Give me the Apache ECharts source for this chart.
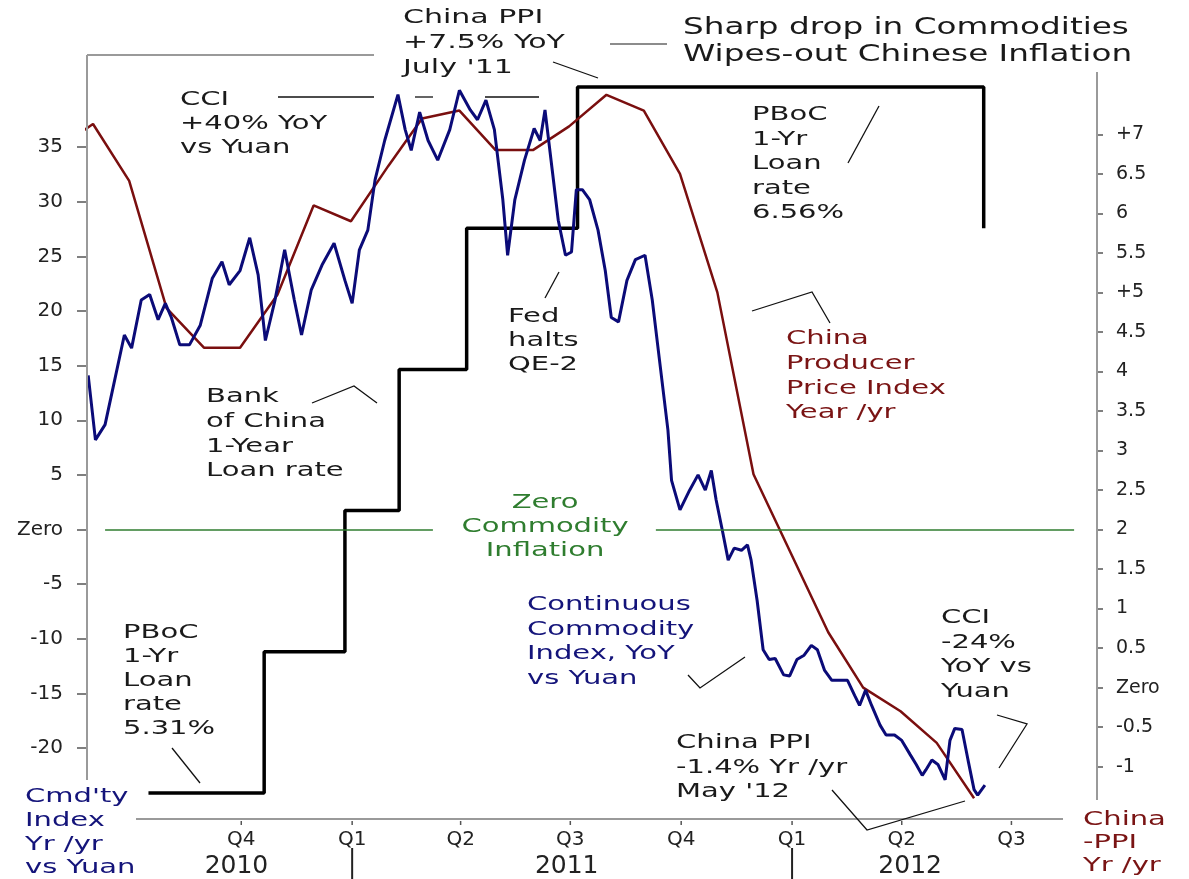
<!DOCTYPE html>
<html>
<head>
<meta charset="utf-8">
<title>Sharp drop in Commodities Wipes-out Chinese Inflation</title>
<script src="https://cdn.jsdelivr.net/npm/echarts@6/dist/echarts.min.js"></script>
<style>
  html, body { margin: 0; padding: 0; background: #fff; }
  #main { width: 1189px; height: 879px; }
</style>
</head>
<body>
<div id="main"></div>
<script>
// Continuous Commodity Index, YoY vs Yuan (left axis, %)
var cciDates = [
  '2010-05-27','2010-06-02','2010-06-10','2010-06-18','2010-06-26','2010-07-02','2010-07-10','2010-07-17','2010-07-24','2010-07-30',
  '2010-08-04','2010-08-11','2010-08-19','2010-08-28','2010-09-07','2010-09-15','2010-09-21','2010-09-30','2010-10-08','2010-10-15',
  '2010-10-21','2010-10-29','2010-11-06','2010-11-14','2010-11-20','2010-11-28','2010-12-07','2010-12-17','2010-12-26','2011-01-01',
  '2011-01-07','2011-01-14','2011-01-20','2011-01-28','2011-02-08','2011-02-14','2011-02-19','2011-02-26','2011-03-05','2011-03-13',
  '2011-03-23','2011-03-31','2011-04-09','2011-04-15','2011-04-22','2011-04-29','2011-05-06','2011-05-10','2011-05-16','2011-05-24',
  '2011-06-01','2011-06-06','2011-06-10','2011-06-16','2011-06-21','2011-06-27','2011-07-02','2011-07-06','2011-07-11','2011-07-17',
  '2011-07-24','2011-07-30','2011-08-04','2011-08-10','2011-08-17','2011-08-24','2011-09-01','2011-09-07','2011-09-13','2011-09-20',
  '2011-09-23','2011-09-30','2011-10-08','2011-10-15','2011-10-21','2011-10-26','2011-10-30','2011-11-04','2011-11-09','2011-11-14',
  '2011-11-20','2011-11-25','2011-11-28','2011-12-03','2011-12-08','2011-12-13','2011-12-18','2011-12-25','2011-12-30','2012-01-05',
  '2012-01-11','2012-01-17','2012-01-22','2012-01-28','2012-02-03','2012-02-10','2012-02-16','2012-02-22','2012-02-26','2012-03-02',
  '2012-03-07','2012-03-14','2012-03-19','2012-03-26','2012-04-01','2012-04-08','2012-04-13','2012-04-18','2012-04-21','2012-04-26',
  '2012-05-01','2012-05-07','2012-05-11','2012-05-15','2012-05-21','2012-05-26','2012-05-31','2012-06-03','2012-06-09'
];
var cciValues = [
  14.1, 8.2, 9.6, 13.7, 17.8, 16.6, 21.0, 21.5, 19.2, 20.7,
  19.4, 16.9, 16.9, 18.7, 23.0, 24.5, 22.4, 23.7, 26.7, 23.3,
  17.3, 21.0, 25.6, 21.0, 17.8, 21.9, 24.2, 26.2, 22.8, 20.7,
  25.6, 27.4, 32.0, 35.6, 39.8, 36.6, 34.7, 38.2, 35.6, 33.8,
  36.6, 40.2, 38.4, 37.5, 39.3, 36.6, 30.2, 25.1, 30.2, 33.8,
  36.7, 35.6, 38.4, 32.9, 28.3, 25.1, 25.4, 31.1, 31.1, 30.2,
  27.4, 23.7, 19.4, 19.0, 22.8, 24.7, 25.1, 21.0, 15.5, 9.1,
  4.5, 1.8, 3.6, 5.0, 3.6, 5.4, 2.7, 0.0, -2.8, -1.7,
  -1.9, -1.4, -2.8, -6.5, -11.0, -11.9, -11.8, -13.3, -13.4, -11.9,
  -11.5, -10.6, -11.0, -12.9, -13.8, -13.8, -13.8, -15.2, -16.1, -14.7,
  -16.1, -17.9, -18.8, -18.8, -19.3, -20.6, -21.5, -22.5, -22.0, -21.1,
  -21.5, -22.9, -19.3, -18.2, -18.3, -21.1, -23.8, -24.3, -23.4
];

// China producer price index, year/yr (right axis, %), month end
var ppiDates = [
  '2010-04-30','2010-05-31','2010-06-30','2010-07-31','2010-08-31','2010-09-30','2010-10-31','2010-11-30','2010-12-31',
  '2011-01-31','2011-02-28','2011-03-31','2011-04-30','2011-05-31','2011-06-30','2011-07-31','2011-08-31','2011-09-30',
  '2011-10-31','2011-11-30','2011-12-31','2012-01-31','2012-02-29','2012-03-31','2012-04-30','2012-05-31'
];
var ppiValues = [
  6.81, 7.13, 6.41, 4.80, 4.30, 4.30, 4.97, 6.10, 5.90,
  6.60, 7.20, 7.30, 6.80, 6.80, 7.10, 7.50, 7.30, 6.50,
  5.00, 2.70, 1.70, 0.70, 0.00, -0.30, -0.70, -1.40
];

// PBoC 1-year loan rate (%), value from that date on
var rateDates = ['2010-07-16','2010-10-20','2010-12-26','2011-02-09','2011-04-06','2011-07-07','2012-06-08'];
var rateValues = [5.31, 5.56, 5.81, 6.06, 6.31, 6.56, 6.31];

// axis ticks and labels
var leftTicks = [-20, -15, -10, -5, 0, 5, 10, 15, 20, 25, 30, 35];
var rightTicks = [-1, -0.5, 0, 0.5, 1, 1.5, 2, 2.5, 3, 3.5, 4, 4.5, 5, 5.5, 6, 6.5, 7];
var quarterTicks = ['2010-10-01','2011-01-01','2011-04-01','2011-07-01','2011-10-01','2012-01-01','2012-04-01','2012-07-01'];
var quarterLabels = ['Q4','Q1','Q2','Q3','Q4','Q1','Q2','Q3'];
var yearTicks = ['2011-01-01','2012-01-01'];
var yearLabelDates = ['2010-09-27','2011-06-28','2012-04-08'];
var yearLabels = ['2010','2011','2012'];
var zeroLineSpans = [['2010-06-10','2011-03-09'], ['2011-09-10','2012-08-22']];

// dates -> ms, the x axes are linear in time
function ts(s) { return +new Date(s + 'T00:00:00'); }

var FONT = '"DejaVu Sans", Verdana, sans-serif';
var INK = '#1a1a1a';
var NAVY = '#14147a';
var BROWN = '#7a1414';
var GREEN = '#2f7d2f';
var AXIS = '#9a9a9a';

var xMin = ts('2010-05-26');
var xMax = ts('2012-09-10');
var qTs = quarterTicks.map(ts);
var yTs = yearTicks.map(ts);
var ylTs = yearLabelDates.map(ts);

var myChart = echarts.init(document.getElementById('main'));

// annotation text block: left x, centre of first line, lines
function note(x, yc, lines, color, opts) {
  opts = opts || {};
  var size = opts.size || 20;
  var lh = opts.lh || 24.5;
  return {
    type: 'text',
    x: x,
    y: yc - lh / 2,
    scaleX: opts.sx || 1.45,
    z: 10,
    silent: true,
    style: {
      text: lines.join('\n'),
      x: 0, y: 0,
      font: size + 'px ' + FONT,
      fill: color || INK,
      lineHeight: lh,
      align: opts.align || 'left',
      verticalAlign: 'top'
    }
  };
}
function leader(points, color, width) {
  return {
    type: 'polyline',
    z: 9,
    silent: true,
    shape: { points: points },
    style: { stroke: color || '#111', lineWidth: width || 1.3, fill: null }
  };
}

var graphics = [
  // partial frame
  leader([[87, 55], [374, 55]], AXIS, 2),
  leader([[87, 55], [87, 780]], AXIS, 2),
  leader([[1097, 72], [1097, 800]], AXIS, 2),
  leader([[136, 819], [1063, 819]], AXIS, 2),

  note(403, 18, ['China PPI', '+7.5% YoY', "July '11"], INK, { sx: 1.5, lh: 25 }),
  leader([[553, 62], [598, 78]]),
  note(683, 28, ['Sharp drop in Commodities', 'Wipes-out Chinese Inflation'], INK, { size: 23, sx: 1.42, lh: 27 }),
  leader([[610, 44], [667, 44]], '#666', 1.3),
  note(180, 100, ['CCI', '+40% YoY', 'vs Yuan'], INK, { lh: 24 }),
  leader([[278, 97], [374, 97]]),
  leader([[415, 97], [433, 97]]),
  leader([[485, 97], [539, 97]]),
  note(752, 115, ['PBoC', '1-Yr', 'Loan', 'rate', '6.56%'], INK),
  leader([[879, 106], [848, 163]]),
  note(508, 317, ['Fed', 'halts', 'QE-2'], INK, { lh: 24 }),
  leader([[559, 272], [545, 298]]),
  note(206, 397, ['Bank', 'of China', '1-Year', 'Loan rate'], INK, { lh: 24.7 }),
  leader([[312, 403], [354, 386], [377, 403]]),
  note(545, 503, ['Zero', 'Commodity', 'Inflation'], GREEN, { align: 'center', lh: 24 }),
  note(786, 339, ['China', 'Producer', 'Price Index', 'Year /yr'], BROWN, { lh: 24.7 }),
  leader([[752, 311], [812, 292], [830, 323]]),
  note(527, 605, ['Continuous', 'Commodity', 'Index, YoY', 'vs Yuan'], NAVY),
  leader([[688, 675], [700, 688], [745, 657]]),
  note(941, 618, ['CCI', '-24%', 'YoY vs', 'Yuan'], INK),
  leader([[997, 715], [1027, 724], [999, 768]]),
  note(676, 743, ['China PPI', '-1.4% Yr /yr', "May '12"], INK),
  leader([[832, 790], [867, 830], [965, 801]]),
  note(123, 633, ['PBoC', '1-Yr', 'Loan', 'rate', '5.31%'], INK, { lh: 24 }),
  leader([[172, 748], [200, 783]]),
  note(25, 797, ["Cmd'ty", 'Index', 'Yr /yr', 'vs Yuan'], NAVY, { lh: 23.7 }),
  note(1083, 820, ['China', '-PPI', 'Yr /yr'], BROWN, { lh: 23 })
];

var option = {
  backgroundColor: '#fff',
  animation: false,
  textStyle: { fontFamily: FONT },
  grid: { left: 87, right: 92, top: 37.8, bottom: 76.3 },
  xAxis: [
    {
      type: 'value',
      min: xMin,
      max: xMax,
      offset: 16.3,
      axisLine: { show: false },
      splitLine: { show: false },
      axisTick: { show: false },
      axisLabel: {
        customValues: qTs,
        margin: 11,
        fontSize: 20,
        color: '#222',
        formatter: function (v) {
          var i = qTs.indexOf(v);
          return i >= 0 ? quarterLabels[i] : '';
        }
      }
    },
    {
      type: 'value',
      min: xMin,
      max: xMax,
      position: 'bottom',
      offset: 45.3,
      axisLine: { show: false },
      splitLine: { show: false },
      axisTick: { show: false },
      axisLabel: {
        customValues: ylTs,
        margin: 6,
        fontSize: 25,
        color: '#222',
        formatter: function (v) {
          var i = ylTs.indexOf(v);
          return i >= 0 ? yearLabels[i] : '';
        }
      }
    }
  ],
  yAxis: [
    {
      type: 'value',
      position: 'left',
      min: -25,
      max: 45,
      axisLine: { show: false },
      splitLine: { show: false },
      axisTick: { show: true, customValues: leftTicks, length: 10, lineStyle: { color: '#555', width: 1.5 } },
      axisLabel: {
        customValues: leftTicks,
        margin: 24,
        fontSize: 20,
        color: '#222',
        formatter: function (v) { return v === 0 ? 'Zero' : String(v); }
      }
    },
    {
      type: 'value',
      position: 'right',
      min: -1.4565,
      max: 8.2209,
      axisLine: { show: false },
      splitLine: { show: false },
      axisTick: { show: true, customValues: rightTicks, length: 6, lineStyle: { color: '#555', width: 1.5 } },
      axisLabel: {
        customValues: rightTicks,
        margin: 19,
        fontSize: 19,
        color: '#222',
        formatter: function (v) {
          if (v === 0) return 'Zero';
          if (v === 7 || v === 5) return '+' + v;
          return String(v);
        }
      }
    },
    {
      // loan-rate scale, not drawn
      type: 'value',
      min: 5.2928,
      max: 6.6471,
      show: false
    }
  ],
  series: [
    {
      name: 'PBoC 1-Yr Loan rate',
      type: 'line',
      yAxisIndex: 2,
      step: 'end',
      showSymbol: false,
      symbol: 'none',
      z: 2,
      lineStyle: { color: '#000', width: 3.5 },
      data: rateDates.map(function (d, i) { return [ts(d), rateValues[i]]; })
    },
    {
      name: 'China PPI',
      type: 'line',
      yAxisIndex: 1,
      showSymbol: false,
      symbol: 'none',
      z: 3,
      lineStyle: { color: '#7a0f0f', width: 2.5 },
      data: ppiDates.map(function (d, i) { return [ts(d), ppiValues[i]]; })
    },
    {
      name: 'CCI YoY vs Yuan',
      type: 'line',
      yAxisIndex: 0,
      showSymbol: false,
      symbol: 'none',
      z: 4,
      lineStyle: { color: '#0b0b78', width: 3 },
      data: cciDates.map(function (d, i) { return [ts(d), cciValues[i]]; }),
      markLine: {
        silent: true,
        symbol: 'none',
        label: { show: false },
        lineStyle: { color: GREEN, width: 1.5, type: 'solid' },
        data: zeroLineSpans.map(function (s) {
          return [{ coord: [ts(s[0]), 0] }, { coord: [ts(s[1]), 0] }];
        })
      }
    }
  ]
};

myChart.setOption(option);

// quarter tick dots and year separators, placed through the x scale
qTs.forEach(function (t) {
  var x = myChart.convertToPixel({ xAxisIndex: 0 }, t);
  graphics.push(leader([[x, 821], [x, 825]], '#555', 1.5));
});
yTs.forEach(function (t) {
  var x = myChart.convertToPixel({ xAxisIndex: 0 }, t);
  graphics.push(leader([[x, 848], [x, 879]], '#222', 2));
});

myChart.setOption({ graphic: { elements: graphics } });
</script>
</body>
</html>
